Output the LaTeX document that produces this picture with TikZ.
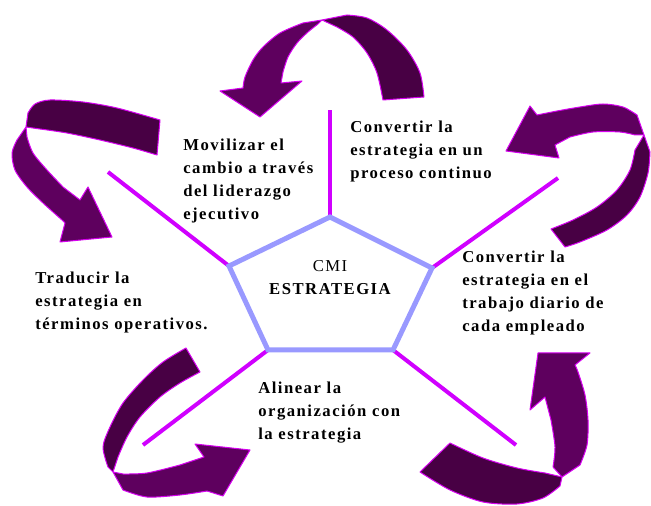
\documentclass[tikz,border=0pt]{standalone}
\usepackage{fontspec}
\setmainfont{Liberation Serif}
\newfontfamily\labelfont[LetterSpace=9]{Liberation Serif}
\definecolor{spoke}{RGB}{208,0,255}
\definecolor{penta}{RGB}{153,153,255}
\definecolor{arrowedge}{RGB}{214,0,240}
\definecolor{arrowlight}{RGB}{94,0,94}
\definecolor{arrowdark}{RGB}{72,0,68}
\tikzset{
  lbl/.style={font=\labelfont\bfseries\fontsize{12.5}{17.25}\selectfont, align=left, inner sep=0pt, anchor=north west},
  spokeline/.style={draw=spoke, line width=3pt},
  pentaline/.style={draw=penta, line width=3.75pt, line join=miter},
  headpart/.style={fill=arrowlight, draw=arrowedge, line width=0.75pt, line join=round},
  tailpart/.style={fill=arrowdark, draw=arrowedge, line width=0.75pt, line join=round},
}
\begin{document}
\begin{tikzpicture}[x=0.75pt, y=-0.75pt]
\useasboundingbox (0,0) rectangle (651,506);

% pentagon corners and spoke ends
\coordinate (pt) at (330,217);
\coordinate (pl) at (229,266);
\coordinate (pr) at (432,268);
\coordinate (pbl) at (268,350);
\coordinate (pbr) at (393,350);
\coordinate (et) at (330,110);
\coordinate (el) at (108,172);
\coordinate (er) at (558,178);
\coordinate (ebl) at (143,445);
\coordinate (ebr) at (516,445);

% spokes
\draw[spokeline] (pt) -- (et);
\draw[spokeline] (pl) -- (el);
\draw[spokeline] (pr) -- (er);
\draw[spokeline] (pbl) -- (ebl);
\draw[spokeline] (pbr) -- (ebr);

% central pentagon
\draw[pentaline] (pt) -- (pr) -- (pbr) -- (pbl) -- (pl) -- cycle;

% top arrow
\path[tailpart] (322,20) -- plot[smooth] coordinates {(347,15) (367,18) (387,30) (407,50) (420,73) (424,97)}
  -- plot[smooth] coordinates {(383,100) (377,73) (367,53) (353,37) (337,27)} -- cycle;
\path[headpart] (322,20) -- plot[smooth] coordinates {(303,23) (280,33) (263,47) (253,60) (245,77) (243,88)}
  -- (220,91) -- (260,117) -- (302,81) -- (281,83)
  -- plot[smooth] coordinates {(283,72) (288,57) (297,43) (308,32) (318,24)} -- cycle;

% upper left arrow
\path[tailpart] (26,127) -- plot[smooth] coordinates {(28,113) (35,104) (50,100) (83,102) (117,108) (160,120)}
  -- plot[smooth] coordinates {(157,155) (133,148) (100,140) (67,133) (40,129)} -- cycle;
\path[headpart] (26,127) -- plot[smooth] coordinates {(17,140) (12,153) (15,170) (27,187) (43,203) (62,220) (65,223)}
  -- (60,242) -- (112,237) -- (88,187) -- (80,200)
  -- plot[smooth] coordinates {(63,187) (47,170) (33,153) (27,137)} -- cycle;

% upper right arrow
\path[tailpart] (644,135) -- plot[smooth] coordinates {(650,152) (648,173) (640,197) (627,215) (607,230) (580,242) (565,247)}
  -- plot[smooth] coordinates {(551,229) (573,220) (597,207) (617,190) (630,170) (635,150)} -- cycle;
\path[headpart] (644,135) -- plot[smooth] coordinates {(637,115) (623,107) (603,104) (580,107) (557,111) (537,115)}
  -- (530,106) -- (506,151) -- (559,158) -- (555,145)
  -- plot[smooth] coordinates {(570,137) (593,132) (620,132) (635,135)} -- cycle;

% lower left arrow
\path[tailpart] (113,472) -- plot[smooth] coordinates {(108,467) (103,447) (110,427) (123,403) (143,380) (163,362) (186,348)}
  -- plot[smooth] coordinates {(200,372) (180,383) (160,397) (140,417) (127,437) (118,457)} -- cycle;
\path[headpart] (113,472) -- plot[smooth] coordinates {(123,490) (147,497) (180,495) (207,491)}
  -- (223,496) -- (250,450) -- (195,444) -- (204,457)
  -- plot[smooth] coordinates {(180,465) (147,473) (123,474)} -- cycle;

% lower right arrow
\path[tailpart] (562,477) -- plot[smooth] coordinates {(560,486) (543,498) (517,504) (483,502) (450,490) (420,472)}
  -- plot[smooth] coordinates {(450,443) (483,458) (517,468) (545,473)} -- cycle;
\path[headpart] (562,477) -- plot[smooth] coordinates {(580,465) (587,445) (588,420) (585,395) (578,372) (575,365)}
  -- (590,353) -- (538,353) -- (530,410) -- (545,397)
  -- plot[smooth] coordinates {(551,420) (555,447) (553,467)} -- cycle;

% labels
\node[lbl] (movilizar) at (183,139) {Movilizar el\\cambio a través\\del liderazgo\\ejecutivo};
\node[lbl] (proceso) at (350,121) {Convertir la\\estrategia en un\\proceso continuo};
\node[lbl] (traducir) at (35,272) {Traducir la\\estrategia en\\términos operativos.};
\node[lbl] (trabajo) at (462,251) {Convertir la\\estrategia en el\\trabajo diario de\\cada empleado};
\node[lbl] (alinear) at (258,382) {Alinear la\\organización con\\la estrategia};
\node[lbl, align=center, anchor=north] (centro) at (330,260) {{\mdseries CMI}\\ESTRATEGIA};
\end{tikzpicture}
\end{document}
